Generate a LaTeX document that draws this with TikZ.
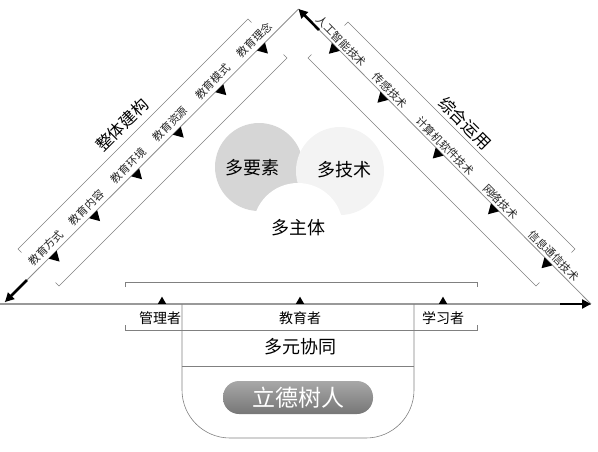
\documentclass[tikz,border=0pt]{standalone}
\usepackage{fontspec}
\setmainfont{Noto Sans CJK SC}
\usetikzlibrary{arrows.meta,shapes.geometric}
\definecolor{pilltop}{HTML}{A8A8A8}
\definecolor{pillbot}{HTML}{767676}
\definecolor{cgray}{HTML}{D6D6D6}
\definecolor{clight}{HTML}{F3F3F3}
\begin{document}
\begin{tikzpicture}[x=1pt,y=-1pt,
  mainline/.style={draw=black!45,line width=0.8pt},
  brk/.style={draw=black!50,line width=0.6pt},
  tri/.style={regular polygon,regular polygon sides=3,fill=black,inner sep=0pt,minimum size=13pt,draw=none},
  small/.style={font=\fontsize{11}{11}\selectfont,inner sep=0pt,text=black!85},
  big/.style={font=\fontsize{16.5}{16.5}\selectfont,inner sep=0pt},
  mid/.style={font=\fontsize{18}{18}\selectfont,inner sep=0pt},
  lab/.style={font=\fontsize{14}{14}\selectfont,inner sep=0pt},
  thickarrow/.style={line width=2.6pt,-{Triangle[length=9pt,width=9pt]}},
]
\useasboundingbox (0,0) rectangle (598,451);
\coordinate (apex) at (298.5,9);
\coordinate (bl) at (5,302);
\coordinate (br) at (591,304);
\coordinate (hl) at (0,304);

% circles
\node[circle,fill=cgray,minimum size=88pt,inner sep=0pt] (c1) at (259,167) {};
\node[circle,fill=clight,minimum size=88pt,inner sep=0pt] (c2) at (340,171) {};
\node[circle,fill=white,minimum size=90pt,inner sep=0pt] (c3) at (298,228) {};
\node[mid] (t1) at (252,168) {多要素};
\node[mid] (t2) at (344,170) {多技术};
\node[mid] (t3) at (298,228) {多主体};

% main lines
\draw[mainline] (apex) -- (bl);
\draw[mainline] (br) -- (apex);
\draw[draw=black!40,line width=1.2pt] (hl) -- (br);

% arrows
\coordinate (bla) at (27,280);
\draw[thickarrow] (bla) -- (bl);
\coordinate (apa) at (319,30);
\draw[thickarrow] (apa) -- (apex);
\coordinate (bra) at (560,304);
\draw[thickarrow] (bra) -- (br);

% left labels
\path (bl) -- (apex)
  foreach \p/\t/\n in {0.162/教育方式/la,0.300/教育内容/lb,0.443/教育环境/lc,0.585/教育资源/ld,0.730/教育模式/le,0.872/教育理念/lf}{
    node[small,sloped,above=4pt,pos=\p] (\n) {\t}
    node[tri,sloped,below=0pt,pos=\p,shape border rotate=180] (\n t) {}
  };
% right labels
\path (apex) -- (br)
  foreach \p/\t/\n in {0.128/人工智能技术/ra,0.294/传感技术/rb,0.483/计算机软件技术/rc,0.672/网络技术/rd,0.855/信息通信技术/re}{
    node[small,sloped,above=2.5pt,pos=\p] (\n) {\t}
    node[tri,sloped,below=0pt,pos=\p,shape border rotate=180] (\n t) {}
  };

% brackets
\draw[brk] (21.5,252.5) -- (18,249) -- (248,19) -- (251.5,22.5);
\draw[brk] (55.5,282.5) -- (59,286) -- (287,58) -- (283.5,54.5);
\draw[brk] (344.5,25.5) -- (348,22) -- (575,249) -- (571.5,252.5);
\draw[brk] (311.5,54.5) -- (308,58) -- (536,286) -- (539.5,282.5);
\draw[brk] (125,287) -- (125,282) -- (477,282) -- (477,287);
\draw[brk] (125,325) -- (125,330) -- (477,330) -- (477,325);

\node[big,rotate=45] (zt) at (122,125) {整体建构};
\node[big,rotate=-45] (zh) at (465,123) {综合运用};

% bottom labels
\node[tri,minimum size=9.5pt,anchor=south] (ta) at (162,304) {};
\node[tri,minimum size=9.5pt,anchor=south] (tb) at (300,304) {};
\node[tri,minimum size=9.5pt,anchor=south] (tc) at (443,304) {};
\node[lab] (ga) at (160,318) {管理者};
\node[lab] (gb) at (300,318) {教育者};
\node[lab] (gc) at (443,318) {学习者};

% U container
\draw[brk,rounded corners=48pt] (182,304) -- (182,438) -- (414,438) -- (414,304);
\draw[brk] (182,366) -- (414,366);
\node[mid] (dy) at (300,347) {多元协同};
\node[rounded corners=16pt,minimum width=150pt,minimum height=33pt,inner sep=0pt,
  top color=pilltop,bottom color=pillbot,text=white,font=\fontsize{23}{23}\selectfont] (ld) at (298,397.5) {立德树人};
\end{tikzpicture}
\end{document}
